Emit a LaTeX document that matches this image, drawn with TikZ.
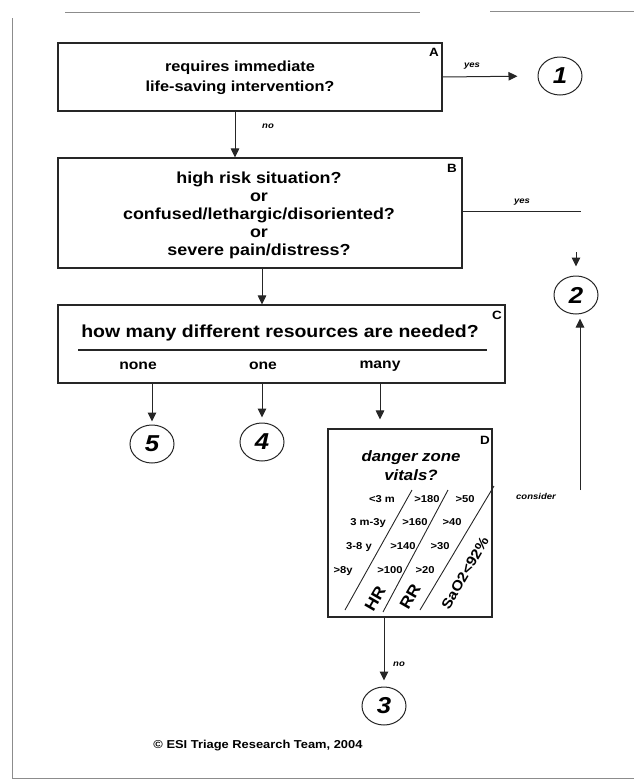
\documentclass[tikz,border=0pt]{standalone}
\usepackage{fontspec}
\setmainfont{Liberation Sans}[FakeStretch=1.12]
\usetikzlibrary{arrows.meta,shapes.geometric}
\begin{document}
\begin{tikzpicture}[x=1pt,y=-1pt,
  box/.style={draw=black!85, line width=1.1pt, inner sep=0pt, align=center},
  circ/.style={ellipse, draw=black!85, line width=1pt, minimum width=44pt, minimum height=38pt, inner sep=0pt, font=\bfseries\itshape\fontsize{23}{23}\selectfont},
  arr/.style={draw=black!85, line width=1pt, -{Triangle[length=9pt,width=8.5pt]}},
  ln/.style={draw=black!85, line width=1pt},
  tag/.style={font=\bfseries\fontsize{12}{12}\selectfont},
  small/.style={font=\bfseries\itshape\fontsize{8.5}{8.5}\selectfont},
  tab/.style={font=\bfseries\fontsize{10}{10}\selectfont, inner sep=0pt, anchor=base},
  opt/.style={font=\bfseries\fontsize{14}{14}\selectfont, anchor=base},
  frame/.style={draw=black!45, line width=0.8pt}]
\useasboundingbox (0,0) rectangle (634,780);
% scanned page frame
\draw[frame] (65,12) -- (420,12);
\draw[frame] (490,11) -- (634,11);
\draw[frame] (12,18) -- (12,778) -- (634,778);

% boxes
\node[box, minimum width=384pt, minimum height=68pt] (A) at (250,77) {};
\node[font=\bfseries\fontsize{14.6}{20}\selectfont, align=center] (qA) at (240,78)
  {requires immediate\\life-saving intervention?};
\node[tag] (tA) at (434,52) {A};

\node[box, minimum width=404pt, minimum height=110pt] (B) at (260,213) {};
\node[font=\bfseries\fontsize{16}{18}\selectfont, align=center] (qB) at (259,215)
  {high risk situation?\\or\\confused/lethargic/disoriented?\\or\\severe pain/distress?};
\node[tag] (tB) at (452,168) {B};

\node[box, minimum width=447pt, minimum height=78pt] (C) at (281.5,344) {};
\node[tag] (tC) at (497,315) {C};
\node[font=\bfseries\fontsize{17.4}{17.4}\selectfont] (qC) at (280,333) {how many different resources are needed?};
\coordinate (u1) at (78,350);
\coordinate (u2) at (487,350);
\draw[ln, line width=1.2pt] (u1) -- (u2);
\node[opt] (none) at (138,369) {none};
\node[opt] (one) at (263,369) {one};
\node[opt] (many) at (380,368) {many};

\node[box, minimum width=164pt, minimum height=188pt] (D) at (410,523) {};
\node[tag] (tD) at (485,440) {D};
\node[font=\bfseries\itshape\fontsize{15}{19}\selectfont, align=center] (dz) at (411,466) {danger zone\\vitals?};

% vitals table
\coordinate (l1a) at (345,610); \coordinate (l1b) at (412,490);
\coordinate (l2a) at (383,612); \coordinate (l2b) at (448,490);
\coordinate (l3a) at (420,610); \coordinate (l3b) at (494,486);
\draw[ln, line width=0.9pt] (l1a) -- (l1b);
\draw[ln, line width=0.9pt] (l2a) -- (l2b);
\draw[ln, line width=0.9pt] (l3a) -- (l3b);
\node[tab] (r1a) at (382,502) {<3 m};
\node[tab] (r1b) at (427,502) {>180};
\node[tab] (r1c) at (465,502) {>50};
\node[tab] (r2a) at (368,525) {3 m-3y};
\node[tab] (r2b) at (415,525) {>160};
\node[tab] (r2c) at (452,525) {>40};
\node[tab] (r3a) at (359,549) {3-8 y};
\node[tab] (r3b) at (403,549) {>140};
\node[tab] (r3c) at (440,549) {>30};
\node[tab] (r4a) at (343,573) {>8y};
\node[tab] (r4b) at (390,573) {>100};
\node[tab] (r4c) at (425,573) {>20};
\node[font=\bfseries\fontsize{16}{16}\selectfont, rotate=60] (hr) at (375,599) {HR};
\node[font=\bfseries\fontsize{16}{16}\selectfont, rotate=60] (rr) at (410,597) {RR};
\node[font=\bfseries\fontsize{14}{14}\selectfont, rotate=60] (sa) at (465,573) {SaO2<92\%};

% circles
\node[circ] (c1) at (560,76) {1};
\node[circ] (c2) at (576,295) {2};
\node[circ] (c5) at (152,444) {5};
\node[circ] (c4) at (262,442) {4};
\node[circ] (c3) at (384,706) {3};

% connectors
\draw[arr, shorten >=20pt] (A.east) -- (c1.west);
\node[small] (yes1) at (472,66) {yes};

\coordinate (xab) at (235,0);
\draw[arr] (A.south -| xab) -- (B.north -| xab);
\node[small] (no1) at (268,126) {no};

\coordinate (yend) at (581,211);
\draw[ln] (B.east |- yend) -- (yend);
\node[small] (yes2) at (522,202) {yes};
\coordinate (k2) at (576,252);
\draw[arr, shorten >=9pt] (k2) -- (c2.north);

\coordinate (k3) at (580,490);
\draw[arr, shorten >=4pt] (k3) -- (k3 |- c2.south);
\node[small] (cons) at (536,496) {consider};

\coordinate (xbc) at (262,0);
\draw[arr] (B.south -| xbc) -- (C.north -| xbc);

\draw[arr, shorten >=3pt] (C.south -| c5) -- (c5.north);
\draw[arr, shorten >=5pt] (C.south -| c4) -- (c4.north);
\coordinate (xcd) at (380,0);
\draw[arr, shorten >=9pt] (C.south -| xcd) -- (D.north -| xcd);

\draw[arr, shorten >=6pt] (D.south -| c3) -- (c3.north);
\node[small] (no2) at (399,664) {no};

\node[font=\bfseries\fontsize{11.5}{11.5}\selectfont] (copy) at (258,746) {\textcopyright{} ESI Triage Research Team, 2004};
\end{tikzpicture}
\end{document}
